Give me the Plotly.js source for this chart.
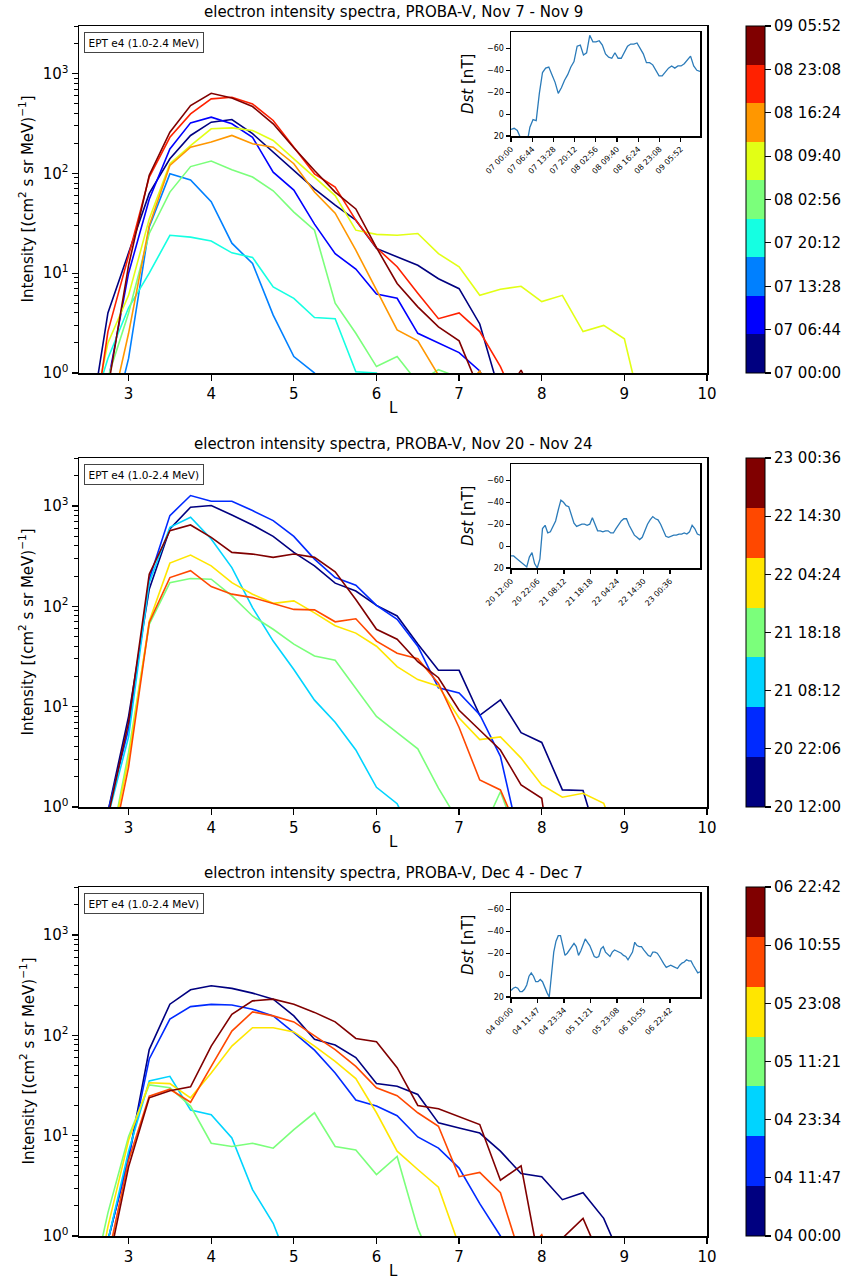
<!DOCTYPE html>
<html><head><meta charset="utf-8">
<script src="https://cdn.plot.ly/plotly-3.0.1.min.js"></script>
<style>html,body{margin:0;padding:0;background:#fff}#chart{width:848px;height:1282px}</style>
</head><body><div id="chart"></div>
<script>
// ---------- DATA ----------
const L = [2.5,2.75,3,3.25,3.5,3.75,4,4.25,4.5,4.75,5,5.25,5.5,5.75,6,6.25,6.5,6.75,7,7.25,7.5,7.75,8,8.25,8.5,8.75,9,9.25,9.5];

// Panel 1: Nov 7 - Nov 9
const times1 = ['07 00:00','07 06:44','07 13:28','07 20:12','08 02:56','08 09:40','08 16:24','08 23:08','09 05:52'];
const p1_0700 = [0.2,4,16,63,140,240,326,347,250,163,107,70,48,34,17.7,14.6,12,8.8,7,3.1,0.6];
const p1_0706 = [0.1,0.8,10,55,176,321,366,314,230,103,68,31,15.7,11,6.2,5.6,2.5,2,1.6,1.05,0.4];
const p1_0713 = [0.1,0.2,1.4,29,99,86,52,20,12.5,3.8,1.46,1.0,0.3];
const p1_0720 = [0.3,1.4,4.5,10,24,23,21,16,14.4,7.3,5.6,3.6,3.5,1.03,1.0,0.3];
const p1_0802 = [0.1,0.9,4,25,65,117,133,109,92,67,41,27,5.0,2.5,1.16,1.46,0.8,1.08,0.9,0.3];
const p1_0809 = [0.2,2,6,35,125,190,280,286,269,214,140,92,60,27,24.5,24,25,15.7,11.6,6.0,6.9,7.4,5.2,6.0,2.6,3.0,2.2,0.3];
const p1_0816 = [0.05,0.3,2.5,30,120,183,206,240,198,183,125,65,40,17,6.8,2.7,2.1,0.95,0.6,1.05,0.4];
const p1_0823 = [0.1,2.6,15,92,230,395,558,580,497,339,183,99,73,34,18,11.6,6.3,3.5,4,2.6,1.16,0.4];
const p1_0905 = [0.1,0.7,12,96,259,479,635,571,468,314,181,107,65,44,18,7.9,4.6,2.9,2.1,0.66,0.5,1.07,0.4];
const dst1 = [14,13,15,22,28,28,12,5,6,-19, -38,-42,-43,-36,-29,-19,-24,-31,-36,-43,
  -48,-62,-63,-54,-56,-72,-66,-66,-67,-63, -55,-52,-51,-56,-51,-51,-57,-62,-64,-64,
  -65,-60,-55,-47,-47,-45,-40,-35,-35,-39, -42,-44,-42,-44,-44,-46,-50,-53,-44,-40,-39];

// Panel 2: Nov 20 - Nov 24
const times2 = ['20 12:00','20 22:06','21 08:12','21 18:18','22 04:24','22 14:30','23 00:36'];
const p2_2012 = [0.1,0.9,8,148,589,970,1008,813,646,497,344,253,170,142,102,80,42,23,23,8.2,11.7,5.5,4.4,1.48,1.46,0.3];
const p2_2022 = [0.1,0.9,6,186,800,1268,1113,1113,898,713,497,295,193,162,102,74,40,15.4,13.7,8.3,3.2,0.4];
const p2_2108 = [0.1,0.8,5,172,612,770,468,243,97,45,23.4,11.6,7,3.7,1.57,1.08,0.4];
const p2_2118 = [0.05,0.3,3.5,66,172,189,186,127,80,59,42,32,29,15.4,8,5.5,3.8,1.54,0.7,0.5,1.42,0.4];
const p2_2204 = [0.05,0.3,3,71,269,324,253,172,132,107,113,86,64,54,40,25,18.6,16,7.7,4.7,5.0,3.07,1.66,1.25,1.37,1.09,0.3];
const p2_2214 = [0.05,0.25,2.5,69,193,226,157,132,122,107,93,92,70,75,45,34,30,17,6.2,1.86,1.48,0.5];
const p2_2300 = [0.1,0.8,7,209,567,646,486,344,331,307,331,307,220,117,59,47,28,19.4,9.2,5.9,3.7,1.66,1.22,0.05];
const dst2 = [9,9,11,13,15,17,19,10,6,16, 20,12,-16,-19,-12,-13,-18,-23,-33,-42,
  -40,-37,-36,-29,-21,-18,-19,-20,-20,-19, -20,-26,-20,-14,-14,-13,-14,-14,-12,-12,
  -16,-20,-23,-25,-25,-19,-15,-10,-8,-6, -8,-15,-20,-24,-27,-25,-24,-20,-15,-9,
  -8,-9,-10,-10,-11,-11,-12,-11,-13,-19, -16,-11,-10];

// Panel 3: Dec 4 - Dec 7
const times3 = ['04 00:00','04 11:47','04 23:34','05 11:21','05 23:08','06 10:55','06 22:42'];
const p3_0400 = [0.1,0.9,6,72,204,284,311,293,263,229,156,91,80,60,33,31,25.7,13.4,11.9,10.6,7,4.2,3.9,2.3,2.7,1.5,0.5];
const p3_0411 = [0.1,0.9,6,58,145,193,203,200,182,156,106,71,42,22.6,19.7,15.8,9.7,7.5,4.75,2.1,1.0,0.4];
const p3_0423 = [0.1,0.9,7,35,39,18,16.2,9.5,2.9,1.34,0.4];
const p3_0511 = [0.2,1.7,9.8,32,30,19.7,8.4,7.8,8.4,7.5,11.5,16.9,7.8,7.2,4.1,6.2,1.19,0.4];
const p3_0523 = [0.1,1.24,9,33.6,33,23.8,42,78,119,119,108,78,55,37,16.9,7,4.6,3.07,0.8];
const p3_0610 = [0.05,0.6,5.7,24.7,29,21.5,49,110,171,156,136,98,72,49,30,25,16.9,12.4,3.9,4.3,2.7,0.6,1.03,0.3];
const p3_0622 = [0.05,0.5,4.9,23.8,28,30.7,78,162,220,229,204,169,136,93,86,47.5,20,18.5,15.4,12.9,3.6,5.0,0.4,0.95,1.5,0.5];
const dst3 = [14,12,11,12,15,15,13,9,1,-2, 1,6,6,4,6,12,16,20,-3,-21,
  -31,-36,-36,-27,-18,-20,-23,-27,-29,-26, -18,-22,-27,-33,-30,-27,-22,-17,-16,-17,
  -24,-26,-21,-19,-17,-21,-23,-22,-21,-20, -18,-17,-14,-18,-21,-30,-27,-26,-26,-23,
  -20,-18,-17,-21,-21,-20,-17,-13,-10,-7, -8,-9,-8,-7,-6,-9,-11,-12,-14,-13,
  -13,-9,-5,-2,-3];

const titles = ['electron intensity spectra, PROBA-V, Nov 7 - Nov 9',
                'electron intensity spectra, PROBA-V, Nov 20 - Nov 24',
                'electron intensity spectra, PROBA-V, Dec 4 - Dec 7'];
const channelLabel = 'EPT e4 (1.0-2.4 MeV)';

// ---------- STYLE / LAYOUT ----------
const W = 848, H = 1282;
const fx = p => p / W;
const fy = p => 1 - p / H;
const FONT = 'DejaVu Sans, sans-serif';
const f = (size) => ({family: FONT, size: size, color: '#000'});

function jet(t) {
  function interp(pts) {
    for (let i = 0; i < pts.length - 1; i++) {
      const [x0, y0] = pts[i], [x1, y1] = pts[i + 1];
      if (t >= x0 && t <= x1) return y0 + (y1 - y0) * (t - x0) / (x1 - x0);
    }
    return pts[pts.length - 1][1];
  }
  const r = interp([[0,0],[0.35,0],[0.66,1],[0.89,1],[1,0.5]]);
  const g = interp([[0,0],[0.125,0],[0.375,1],[0.64,1],[0.91,0],[1,0]]);
  const b = interp([[0,0.5],[0.11,1],[0.34,1],[0.65,0],[1,0]]);
  return `rgb(${Math.round(r*255)},${Math.round(g*255)},${Math.round(b*255)})`;
}

function toHours(label, d0, h0) {
  const d = parseInt(label.slice(0, 2), 10), hh = parseInt(label.slice(3, 5), 10), mm = parseInt(label.slice(6, 8), 10);
  return (d - d0) * 24 + hh + mm / 60 - h0;
}

const panels = [
  {top: 26, bot: 373, times: times1, series: [p1_0700,p1_0706,p1_0713,p1_0720,p1_0802,p1_0809,p1_0816,p1_0823,p1_0905], dst: dst1, d0: 7, h0: 0, span: 60},
  {top: 458, bot: 807, times: times2, series: [p2_2012,p2_2022,p2_2108,p2_2118,p2_2204,p2_2214,p2_2300], dst: dst2, d0: 20, h0: 12, span: 72},
  {top: 887, bot: 1236, times: times3, series: [p3_0400,p3_0411,p3_0423,p3_0511,p3_0523,p3_0610,p3_0622], dst: dst3, d0: 4, h0: 0, span: 84}
];

const traces = [];
const layout = {
  width: W, height: H,
  margin: {l: 0, r: 0, t: 0, b: 0},
  paper_bgcolor: '#fff', plot_bgcolor: '#fff',
  font: f(15),
  showlegend: false,
  annotations: []
};

const minorVals = [];
[1, 10, 100, 1000].forEach(d => { for (let k = 2; k <= 9; k++) if (d * k <= 3000) minorVals.push(d * k); });

panels.forEach((P, i) => {
  const mx = 'x' + (2 * i + 1), my = 'y' + (2 * i + 1);
  const ix = 'x' + (2 * i + 2), iy = 'y' + (2 * i + 2);
  const mxk = 'xaxis' + (2 * i + 1), myk = 'yaxis' + (2 * i + 1);
  const ixk = 'xaxis' + (2 * i + 2), iyk = 'yaxis' + (2 * i + 2);
  const N = P.series.length;
  const cols = P.series.map((_, k) => jet(N === 1 ? 0 : k / (N - 1)));

  P.series.forEach((v, k) => {
    traces.push({
      type: 'scatter', mode: 'lines', x: L.slice(0, v.length), y: v,
      xaxis: mx, yaxis: my, line: {color: cols[k], width: 1.6},
      hoverinfo: 'skip', showlegend: false, name: P.times[k]
    });
  });

  // colorbar
  const cs = [];
  cols.forEach((c, k) => { cs.push([k / N, c]); cs.push([(k + 1) / N, c]); });
  traces.push({
    type: 'scatter', mode: 'markers', x: [null], y: [null], xaxis: mx, yaxis: my,
    hoverinfo: 'skip', showlegend: false,
    marker: {
      color: [0], cmin: 0, cmax: N - 1, colorscale: cs, showscale: true, size: 0.1,
      colorbar: {
        x: fx(746), xanchor: 'left', xref: 'paper', y: fy(P.top), yanchor: 'top', yref: 'paper',
        len: (P.bot - P.top) / H, lenmode: 'fraction', thickness: 19, thicknessmode: 'pixels',
        xpad: 0, ypad: 0, outlinewidth: 1, outlinecolor: '#000',
        tickmode: 'array', tickvals: P.times.map((_, k) => k), ticktext: P.times,
        ticks: 'outside', ticklen: 6, tickwidth: 1.2, tickcolor: '#000',
        tickfont: f(15)
      }
    }
  });

  // Dst inset
  traces.push({
    type: 'scatter', mode: 'lines', x: P.dst.map((_, h) => h), y: P.dst,
    xaxis: ix, yaxis: iy, line: {color: '#2b7bb9', width: 1.3},
    hoverinfo: 'skip', showlegend: false
  });

  layout[mxk] = {
    domain: [fx(79), fx(707)], anchor: my, range: [2.4, 10],
    tickmode: 'array', tickvals: [3,4,5,6,7,8,9,10], ticks: 'outside', ticklen: 6, tickwidth: 1.3, tickcolor: '#000',
    showline: true, mirror: true, linecolor: '#000', linewidth: 1.5,
    showgrid: false, zeroline: false, tickfont: f(15)
  };
  layout[myk] = {
    domain: [fy(P.bot), fy(P.top)], anchor: mx, type: 'log', range: [0, Math.log10(3000)],
    tickmode: 'array', tickvals: [1, 10, 100, 1000],
    ticktext: ['10<sup>0</sup>', '10<sup>1</sup>', '10<sup>2</sup>', '10<sup>3</sup>'],
    ticks: 'outside', ticklen: 6, tickwidth: 1.3, tickcolor: '#000',
    minor: {tickmode: 'array', tickvals: minorVals, ticks: 'outside', ticklen: 3.5, tickwidth: 1, tickcolor: '#000', showgrid: false},
    showline: true, mirror: true, linecolor: '#000', linewidth: 1.5,
    showgrid: false, zeroline: false, tickfont: f(15)
  };
  layout[ixk] = {
    domain: [fx(511), fx(700)], anchor: iy, range: [0, P.span],
    tickmode: 'array', tickvals: P.times.map(t => toHours(t, P.d0, P.h0)), ticktext: P.times,
    tickangle: -45, tickfont: f(7.8),
    ticks: 'outside', ticklen: 4, tickwidth: 1.2, tickcolor: '#000',
    showline: true, mirror: true, linecolor: '#000', linewidth: 1.5,
    showgrid: false, zeroline: false
  };
  layout[iyk] = {
    domain: [fy(P.top + 110), fy(P.top + 6)], anchor: ix, range: [20, -75],
    tickmode: 'array', tickvals: [-60, -40, -20, 0, 20], ticktext: ['\u221260', '\u221240', '\u221220', '0', '20'],
    tickfont: f(8),
    ticks: 'outside', ticklen: 4, tickwidth: 1.2, tickcolor: '#000',
    showline: true, mirror: true, linecolor: '#000', linewidth: 1.5,
    showgrid: false, zeroline: false
  };

  // titles & labels
  layout.annotations.push({
    text: titles[i], xref: 'paper', yref: 'paper', x: fx(393), y: fy(P.top - 14),
    xanchor: 'center', yanchor: 'middle', showarrow: false, font: f(15)
  });
  layout.annotations.push({
    text: 'Intensity [(cm<sup>2</sup> s sr MeV)<sup>\u22121</sup>]', xref: 'paper', yref: 'paper',
    x: fx(27), y: fy((P.top + P.bot) / 2), xanchor: 'center', yanchor: 'middle',
    textangle: -90, showarrow: false, font: f(15)
  });
  layout.annotations.push({
    text: 'L', xref: 'paper', yref: 'paper', x: fx(393), y: fy(P.bot + 35),
    xanchor: 'center', yanchor: 'middle', showarrow: false, font: f(15)
  });
  layout.annotations.push({
    text: '<i>Dst</i> [nT]', xref: 'paper', yref: 'paper', x: fx(468), y: fy(P.top + 58),
    xanchor: 'center', yanchor: 'middle', textangle: -90, showarrow: false, font: f(15)
  });
  layout.annotations.push({
    text: channelLabel, xref: 'paper', yref: 'paper', x: fx(84), y: fy(P.top + 6),
    xanchor: 'left', yanchor: 'top', showarrow: false, font: f(10.5),
    bordercolor: '#444', borderwidth: 1, borderpad: 3.5, bgcolor: '#fff'
  });
});

Plotly.newPlot('chart', traces, layout, {staticPlot: true, displayModeBar: false});
</script>
</body></html>
